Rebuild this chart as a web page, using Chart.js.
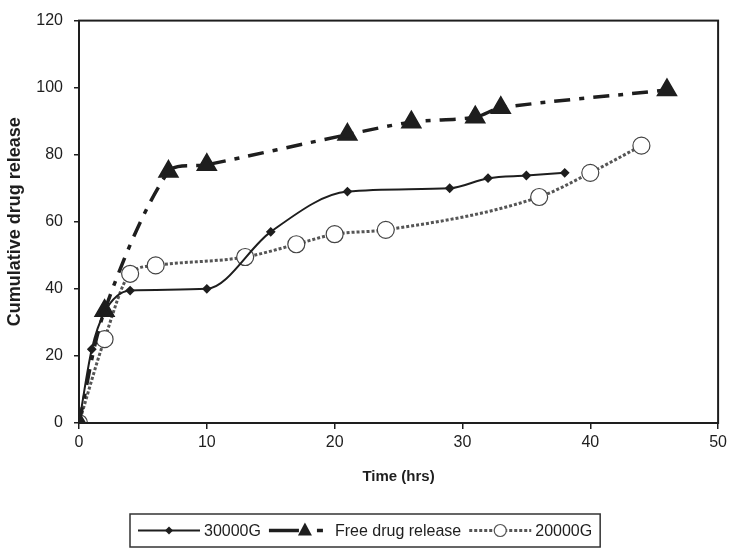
<!DOCTYPE html>
<html>
<head>
<meta charset="utf-8">
<script src="https://cdn.jsdelivr.net/npm/chart.js@4.4.1/dist/chart.umd.min.js"></script>
<style>
  html, body { margin: 0; padding: 0; background: #fff; }
  #wrap { width: 731px; height: 552px; position: relative; }
</style>
</head>
<body>
<div id="wrap"><canvas id="releaseChart" width="731" height="552"></canvas></div>
<script>
// release data (time in hrs, cumulative release)
const time30000 = [0, 1, 2, 4, 10, 15, 21, 29, 32, 35, 38];
const rel30000  = [0, 22, 33, 39.5, 40, 57, 69, 70, 73, 73.8, 74.6];

const timeFree = [0, 2, 7, 10, 21, 26, 31, 33, 46];
const relFree  = [0, 33.5, 75, 77, 86, 89.7, 91.2, 94, 99.3];

const time20000 = [0, 2, 4, 6, 13, 17, 20, 24, 36, 40, 44];
const rel20000  = [0, 25, 44.5, 47, 49.5, 53.3, 56.3, 57.6, 67.4, 74.6, 82.7];

const xTicks = [0, 10, 20, 30, 40, 50];
const yTicks = [0, 20, 40, 60, 80, 100, 120];

const INK = '#1e1e1e';
const FONT = "'Liberation Sans', Arial, sans-serif";

const pts = (xs, ys) => xs.map((x, i) => ({ x, y: ys[i] }));

const FREE_DASH = [16, 9, 5, 9];
const CHAIN_DASH = [3, 2];

// box round the plot area
const framePlugin = {
  id: 'frame',
  afterDraw(chart) {
    const { ctx, chartArea: a } = chart;
    ctx.save();
    ctx.strokeStyle = INK;
    ctx.lineWidth = 2;
    ctx.strokeRect(a.left, a.top, a.right - a.left, a.bottom - a.top);
    ctx.restore();
  }
};

// Excel-style boxed legend under the axis title
const legendPlugin = {
  id: 'boxLegend',
  afterDraw(chart) {
    const { ctx } = chart;
    const top = 514, h = 33, mid = top + h / 2;
    ctx.save();
    ctx.font = '16px ' + FONT;
    ctx.textBaseline = 'middle';
    ctx.fillStyle = INK;

    const items = [
      { label: '30000G', kind: 'diamond' },
      { label: 'Free drug release', kind: 'triangle' },
      { label: '20000G', kind: 'circle' }
    ];
    const sample = 62, gapAfter = 4, gapBetween = 8;
    let total = 0;
    items.forEach(it => { total += sample + gapAfter + ctx.measureText(it.label).width; });
    total += gapBetween * (items.length - 1) + 16;
    let x = Math.round(731 / 2 - total / 2);

    ctx.strokeStyle = '#333';
    ctx.lineWidth = 1.5;
    ctx.strokeRect(x, top, total, h);
    x += 8;

    items.forEach(it => {
      const cx = x + sample / 2;
      ctx.beginPath();
      if (it.kind === 'diamond') {
        ctx.setLineDash([]);
        ctx.lineWidth = 2;
        ctx.strokeStyle = INK;
        ctx.moveTo(x, mid); ctx.lineTo(x + sample, mid); ctx.stroke();
        ctx.beginPath();
        ctx.moveTo(cx, mid - 4); ctx.lineTo(cx + 4, mid); ctx.lineTo(cx, mid + 4); ctx.lineTo(cx - 4, mid);
        ctx.closePath(); ctx.fill();
      } else if (it.kind === 'triangle') {
        ctx.setLineDash([]);
        ctx.lineWidth = 3.5;
        ctx.strokeStyle = INK;
        ctx.moveTo(x, mid); ctx.lineTo(x + 30, mid); ctx.stroke();
        ctx.beginPath();
        ctx.moveTo(x + 48, mid); ctx.lineTo(x + 54, mid); ctx.stroke();
        ctx.beginPath();
        const tx = x + 36;
        ctx.moveTo(tx, mid - 8); ctx.lineTo(tx + 7, mid + 5); ctx.lineTo(tx - 7, mid + 5);
        ctx.closePath(); ctx.fill();
      } else {
        ctx.setLineDash(CHAIN_DASH);
        ctx.lineWidth = 3;
        ctx.strokeStyle = '#555';
        ctx.moveTo(x, mid); ctx.lineTo(x + sample, mid); ctx.stroke();
        ctx.setLineDash([]);
        ctx.beginPath();
        ctx.fillStyle = '#fff';
        ctx.lineWidth = 1.2;
        ctx.arc(cx, mid, 6, 0, Math.PI * 2);
        ctx.fill(); ctx.stroke();
        ctx.fillStyle = INK;
      }
      x += sample + gapAfter;
      ctx.fillText(it.label, x, mid + 1);
      x += ctx.measureText(it.label).width + gapBetween;
    });
    ctx.restore();
  }
};

new Chart(document.getElementById('releaseChart'), {
  type: 'line',
  data: {
    datasets: [
      {
        label: '30000G',
        data: pts(time30000, rel30000),
        borderColor: INK, borderWidth: 2,
        pointStyle: 'rectRot', pointRadius: 3.5,
        pointBackgroundColor: INK, pointBorderColor: INK,
        cubicInterpolationMode: 'monotone'
      },
      {
        label: 'Free drug release',
        data: pts(timeFree, relFree),
        borderColor: INK, borderWidth: 3.5, borderDash: FREE_DASH,
        pointStyle: 'triangle', pointRadius: 9,
        pointBackgroundColor: INK, pointBorderColor: INK,
        tension: 0.3
      },
      {
        label: '20000G',
        data: pts(time20000, rel20000),
        borderColor: '#555', borderWidth: 3, borderDash: CHAIN_DASH,
        pointStyle: 'circle', pointRadius: 8.5,
        pointBackgroundColor: '#fff', pointBorderColor: '#444', pointBorderWidth: 1.2,
        cubicInterpolationMode: 'monotone'
      }
    ]
  },
  options: {
    responsive: false,
    animation: false,
    layout: { padding: { left: 4, top: 11, right: 12, bottom: 62 } },
    plugins: { legend: { display: false }, tooltip: { enabled: false } },
    scales: {
      x: {
        type: 'linear', min: 0, max: 50,
        afterFit: s => { s.height = 67; },
        afterBuildTicks: s => { s.ticks = xTicks.map(v => ({ value: v })); },
        grid: { drawOnChartArea: false, tickLength: 6, color: INK, lineWidth: 1.5 },
        border: { color: INK, width: 2 },
        ticks: { color: INK, font: { family: FONT, size: 16 }, padding: 4, maxRotation: 0 },
        title: { display: true, text: 'Time (hrs)', color: INK, padding: { top: 0, bottom: 4 },
                 font: { family: FONT, size: 15, weight: 'bold' } }
      },
      y: {
        min: 0, max: 120,
        afterFit: s => { s.width = 75; },
        afterBuildTicks: s => { s.ticks = yTicks.map(v => ({ value: v })); },
        grid: { drawOnChartArea: false, tickLength: 5, color: INK, lineWidth: 1.5 },
        border: { color: INK, width: 2 },
        ticks: { color: INK, font: { family: FONT, size: 16 }, padding: 11 },
        title: { display: true, text: 'Cumulative drug release', color: INK, padding: 0,
                 font: { family: FONT, size: 18, weight: 'bold' } }
      }
    }
  },
  plugins: [framePlugin, legendPlugin]
});
</script>
</body>
</html>
